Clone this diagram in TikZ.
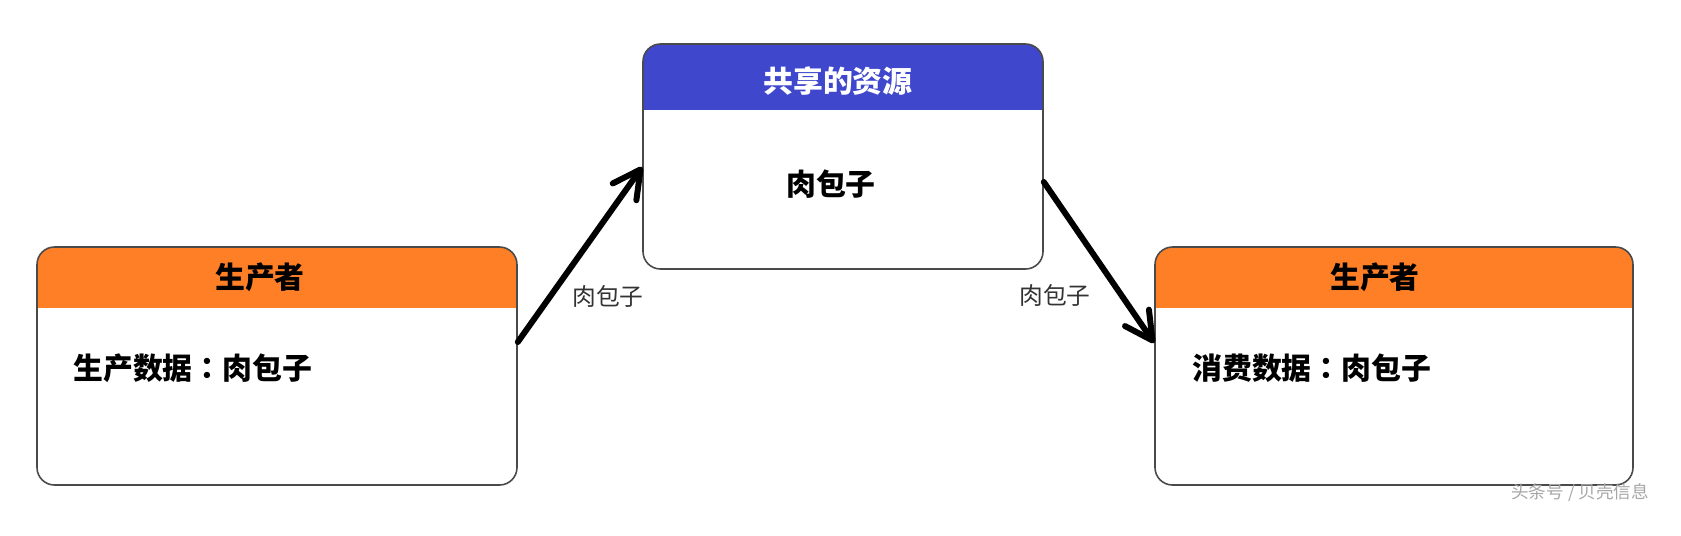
\documentclass[tikz,border=0pt]{standalone}
\usepackage{fontspec}
\usepackage{tikz}
\usetikzlibrary{arrows.meta}
\newfontfamily\cjk{Noto Sans CJK SC}
\newfontfamily\cjktc{Noto Sans CJK TC}
\definecolor{paintorange}{HTML}{FF7F27}
\definecolor{paintblue}{HTML}{3F48CC}
\definecolor{boxline}{HTML}{4A4A4A}
\newcommand{\fwcolon}{{\cjktc ：}}
\tikzset{
    card/.style 2 args={draw=boxline, line width=0.9pt, rounded corners=0.35cm, inner sep=0pt,
        path picture={\fill[#1, sharp corners] (path picture bounding box.north west) rectangle
            ([yshift=-#2]path picture bounding box.north east);}},
    headtxt/.style={font=\cjk\bfseries\fontsize{17}{20}\selectfont, inner sep=0pt},
    bodytxt/.style={font=\cjk\bfseries\fontsize{17}{20}\selectfont, inner sep=0pt},
    flowtxt/.style={font=\cjk\fontsize{13.5}{16}\selectfont, text=black!80, inner sep=0pt},
    flow/.style={line width=3.4pt, line cap=round, -{Straight Barb[length=5.5mm,width=5.8mm,round]}}
}

\begin{document}
\begin{tikzpicture}
        \useasboundingbox (0,0) rectangle (33.62,-10.70);

        % Producer
        \node[card={paintorange}{1.22cm}, minimum width=9.6cm, minimum height=4.76cm] (prod) at (5.54,-7.32) {};
        \node[headtxt] (prodhead) at (5.20,-5.54) {生产者};
        \node[bodytxt, anchor=west] (prodbody) at (1.46,-7.36) {生产数据\fwcolon 肉包子};

        % Shared resource
        \node[card={paintblue}{1.32cm}, minimum width=8.0cm, minimum height=4.5cm] (share) at (16.86,-3.13) {};
        \node[headtxt, text=white] (sharehead) at (16.76,-1.62) {共享的资源};
        \node[bodytxt] (sharebody) at (16.62,-3.68) {肉包子};

        % Consumer
        \node[card={paintorange}{1.22cm}, minimum width=9.56cm, minimum height=4.76cm] (cons) at (27.88,-7.32) {};
        \node[headtxt] (conshead) at (27.50,-5.54) {生产者};
        \node[bodytxt, anchor=west] (consbody) at (23.84,-7.36) {消费数据\fwcolon 肉包子};

        % Arrows
        \draw[flow] ([yshift=0.48cm]prod.east) -- ([yshift=-0.21cm]share.west);
        \draw[flow] ([yshift=-0.51cm]share.east) -- ([yshift=0.46cm]cons.west);
        \node[flowtxt] (lblin) at (12.16,-5.92) {肉包子};
        \node[flowtxt] (lblout) at (21.10,-5.90) {肉包子};

        % Mark
        \node[font=\cjk\fontsize{10}{12}\selectfont, text=black!35, anchor=west, inner sep=0pt] (mark) at (30.22,-9.86) {头条号 / 贝壳信息};
\end{tikzpicture}
\end{document}
